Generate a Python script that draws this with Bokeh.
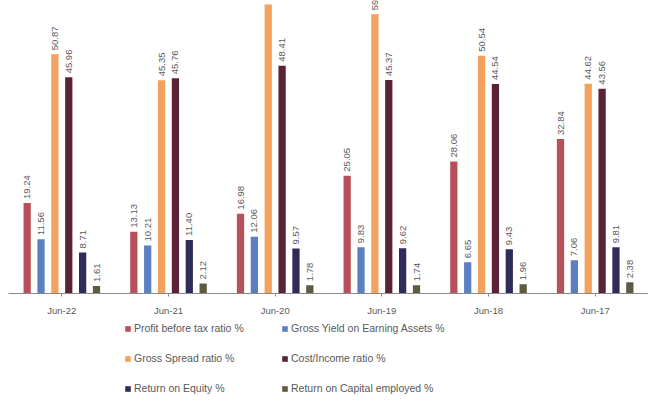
from bokeh.plotting import figure
from bokeh.layouts import column
from bokeh.models import ColumnDataSource, Legend, LegendItem, Range1d
from bokeh.transform import dodge
from bokeh.embed import file_html
from bokeh.resources import INLINE
import math

# Financial ratios by year (values in %)
years = ["Jun-22", "Jun-21", "Jun-20", "Jun-19", "Jun-18", "Jun-17"]
profit_before_tax = [19.24, 13.13, 16.98, 25.05, 28.06, 32.84]
gross_yield = [11.56, 10.21, 12.06, 9.83, 6.65, 7.06]
gross_spread = [50.87, 45.35, 61.45, 59.37, 50.54, 44.62]
cost_income = [45.96, 45.76, 48.41, 45.37, 44.54, 43.56]
return_on_equity = [8.71, 11.40, 9.57, 9.62, 9.43, 9.81]
return_on_capital = [1.61, 2.12, 1.78, 1.74, 1.96, 2.38]

series = [
    ("Profit before tax ratio %", profit_before_tax, "#b8505a"),
    ("Gross Yield on Earning Assets %", gross_yield, "#5b7fbf"),
    ("Gross Spread ratio %", gross_spread, "#f2a25c"),
    ("Cost/Income ratio %", cost_income, "#5a2238"),
    ("Return on Equity %", return_on_equity, "#2f2c5a"),
    ("Return on Capital employed %", return_on_capital, "#5f5a44"),
]

offsets = [-0.325, -0.195, -0.065, 0.065, 0.195, 0.325]

p = figure(
    x_range=years,
    y_range=Range1d(0, 62.3),
    width=648,
    height=318,
    output_backend="svg",
    toolbar_location=None,
    min_border_left=8,
    min_border_right=0,
    min_border_top=0,
    min_border_bottom=25,
)

for (name, vals, color), off in zip(series, offsets):
    src = ColumnDataSource(dict(
        year=years,
        val=vals,
        lbl=[f"{v:.2f}" for v in vals],
    ))
    p.vbar(x=dodge("year", off, range=p.x_range), top="val", width=0.068,
           source=src, fill_color=color, line_color=None)
    p.text(x=dodge("year", off, range=p.x_range), y="val", text="lbl", source=src,
           angle=math.pi / 2, text_align="left", text_baseline="middle",
           y_offset=-4, text_font_size="9.5px", text_color="#5a5a5a")

p.yaxis.visible = False
p.xgrid.grid_line_color = None
p.ygrid.grid_line_color = None
p.outline_line_color = None

p.xaxis.axis_line_color = "#8a8a8a"
p.xaxis.major_tick_line_color = "#8a8a8a"
p.xaxis.major_tick_in = 0
p.xaxis.major_tick_out = 3
p.xaxis.major_label_text_font_size = "9.5px"
p.xaxis.major_label_text_color = "#595959"
p.xaxis.major_label_standoff = 8

# Separate strip holding the series key under the chart
lg = figure(
    width=648,
    height=83,
    output_backend="svg",
    toolbar_location=None,
    x_range=Range1d(0, 1),
    y_range=Range1d(0, 1),
    min_border=0,
)
lg.axis.visible = False
lg.grid.grid_line_color = None
lg.outline_line_color = None

# swatch renderers sit outside the visible range; only their legend entries show
swatches = {}
for name, vals, color in series:
    swatches[name] = lg.vbar(x=[-5], top=[-5], width=0.1,
                             fill_color=color, line_color=None)

# two columns, filled column by column: left column holds series 1, 3, 5
order = [0, 2, 4, 1, 3, 5]
items = [LegendItem(label=series[i][0], renderers=[swatches[series[i][0]]])
         for i in order]

legend = Legend(items=items, ncols=2, location=(116, 3))
legend.label_text_font_size = "10.5px"
legend.label_text_color = "#595959"
legend.glyph_width = 7
legend.glyph_height = 7
legend.label_height = 20
legend.label_width = 137
legend.spacing = 10
legend.padding = 0
legend.margin = 0
legend.label_standoff = 3
legend.border_line_color = None
legend.background_fill_alpha = 0
lg.add_layout(legend, "center")

layout = column(p, lg, spacing=0)
open("out.html", "w").write(file_html(layout, INLINE))
